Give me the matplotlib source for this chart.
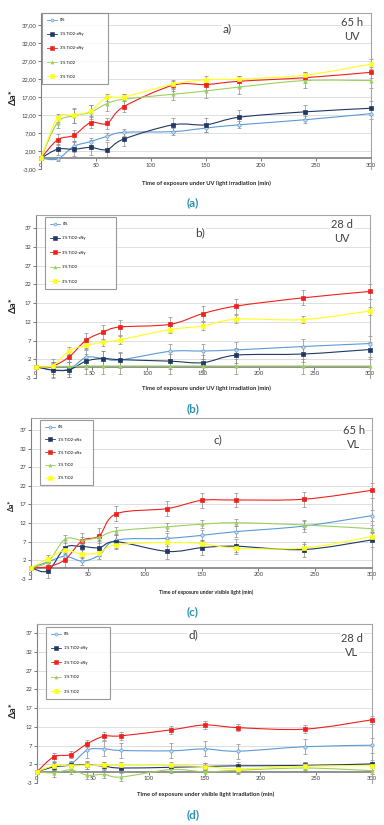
import matplotlib
matplotlib.use("Agg")
import matplotlib.pyplot as plt
import numpy as np
from matplotlib.path import Path
from matplotlib.patches import PathPatch
from matplotlib.lines import Line2D
from matplotlib.ticker import FuncFormatter

# ---------------- data ----------------
time_min = [0, 15, 30, 45, 60, 75, 120, 150, 180, 240, 300]
x_ticks = [0, 50, 100, 150, 200, 250, 300]
y_ticks = [-3, 2, 7, 12, 17, 22, 27, 32, 37]

labels_xNy = ["0%", "1% TiO2-xNy", "3% TiO2-xNy", "1% TiO2", "3% TiO2"]
labels_xNx = ["0%", "1% TiO2-xNx", "3% TiO2-xNx", "1% TiO2", "3% TiO2"]

# panel a) 65 h UV
a_0pct   = [0, -0.2, 3.3, 4.6, 6.1, 7.2, 7.4, 8.4, 9.3, 10.7, 12.4]
a_1xNy   = [0, 2.5, 2.5, 3.0, 2.4, 5.3, 9.3, 9.3, 11.4, 12.9, 13.9]
a_3xNy   = [0, 5.1, 6.4, 9.9, 9.7, 14.3, 20.3, 20.5, 21.4, 22.4, 23.9]
a_1TiO2  = [0, 9.9, 11.8, 12.8, 15.2, 16.4, 17.8, 18.7, 19.8, 21.6, 21.6]
a_3TiO2  = [0, 11.2, 11.9, 13.2, 17.0, 17.0, 20.6, 21.8, 22.0, 23.1, 26.2]
a_err = [[0, 0.5, 1.5, 1.0, 1.0, 1.0, 1.0, 1.0, 1.0, 1.0, 1.5],
         [0, 1.5, 2.0, 2.0, 2.0, 2.0, 2.0, 2.0, 2.0, 2.0, 2.0],
         [0, 1.5, 1.5, 1.5, 1.5, 1.5, 1.5, 1.5, 1.5, 1.5, 1.5],
         [0, 1.5, 2.0, 2.0, 2.0, 1.5, 1.5, 2.0, 2.0, 2.0, 2.0],
         [0, 1.0, 2.0, 1.5, 1.0, 1.0, 1.0, 1.0, 1.0, 1.0, 1.5]]

# panel b) 28 d UV
b_0pct   = [0, -0.8, -0.6, 2.5, 2.2, 1.8, 4.1, 4.2, 4.5, 5.4, 6.2]
b_1xNy   = [0, -0.9, -0.8, 1.5, 2.2, 1.9, 1.5, 1.1, 3.1, 3.4, 4.6]
b_3xNy   = [0, 0.2, 2.7, 7.1, 9.2, 10.6, 11.3, 14.2, 16.2, 18.4, 20.1]
b_1TiO2  = [0, 0.1, 0.1, 0.2, 0.2, 0.2, 0.2, 0.2, 0.2, 0.2, 0.2]
b_3TiO2  = [0, 0.3, 4.3, 5.7, 6.5, 7.2, 9.9, 10.9, 12.7, 12.6, 14.9]
b_err = [[0, 2.0, 2.0, 2.0, 2.0, 2.0, 2.0, 2.0, 2.0, 2.0, 2.0],
         [0, 2.0, 2.0, 2.0, 2.0, 2.0, 2.0, 2.0, 2.0, 2.0, 2.0],
         [0, 1.0, 1.5, 2.0, 2.0, 2.0, 2.0, 2.0, 2.0, 2.0, 2.0],
         [0, 2.0, 2.0, 2.0, 2.0, 2.0, 2.0, 2.0, 2.0, 2.0, 2.0],
         [0, 1.0, 1.0, 1.0, 1.0, 1.0, 1.0, 1.0, 1.0, 1.0, 1.0]]

# panel c) 65 h VL
c_0pct   = [0, 1.6, 3.1, 1.8, 3.4, 7.4, 7.9, 8.7, 9.7, 11.2, 14.0]
c_1xNx   = [0, -0.8, 5.4, 5.7, 5.4, 7.0, 4.4, 5.4, 5.8, 4.9, 7.5]
c_3xNx   = [0, 0.3, 2.2, 7.3, 8.6, 14.5, 15.9, 18.1, 18.2, 18.4, 20.8]
c_1TiO2  = [0, 1.6, 7.7, 7.4, 8.2, 9.9, 11.0, 11.7, 12.1, 11.5, 10.5]
c_3TiO2  = [0, 2.5, 4.7, 3.7, 4.1, 6.2, 6.8, 6.5, 5.3, 5.3, 8.4]
c_err = [[0, 1.0, 1.0, 1.0, 1.0, 1.5, 1.5, 1.5, 1.5, 1.5, 1.5],
         [0, 2.0, 2.0, 2.0, 2.0, 2.0, 2.0, 2.0, 2.0, 2.0, 2.0],
         [0, 1.0, 2.0, 2.0, 2.0, 2.0, 2.0, 2.0, 2.0, 2.0, 2.0],
         [0, 1.0, 1.0, 1.0, 1.0, 1.0, 1.0, 1.0, 1.0, 1.0, 1.0],
         [0, 1.0, 1.0, 1.0, 1.0, 1.0, 1.0, 1.0, 1.0, 1.0, 1.0]]

# panel d) 28 d VL
d_0pct   = [0, 1.5, 2.0, 5.8, 6.1, 5.7, 5.6, 6.1, 5.5, 6.7, 7.1]
d_1xNy   = [0, 1.3, 1.7, 1.8, 1.5, 1.0, 1.2, 1.4, 1.6, 1.7, 2.1]
d_3xNy   = [0, 4.0, 4.6, 7.5, 9.5, 9.6, 11.2, 12.5, 11.8, 11.4, 13.9]
d_1TiO2  = [0, -0.3, 0.5, -0.9, -0.7, -1.4, 0.6, 0.0, 0.4, 1.0, 0.3]
d_3TiO2  = [0, 1.6, 1.6, 1.7, 1.7, 1.7, 1.7, 1.4, 0.8, 1.5, 1.6]
d_err = [[0, 1.0, 1.0, 2.0, 2.0, 2.0, 2.0, 2.0, 2.0, 2.0, 2.0],
         [0, 1.0, 1.0, 1.0, 1.0, 1.0, 1.0, 1.0, 1.0, 1.0, 1.0],
         [0, 1.0, 1.0, 1.0, 1.0, 1.0, 1.0, 1.0, 1.0, 1.0, 1.0],
         [0, 1.0, 1.0, 1.0, 1.0, 1.0, 1.0, 1.0, 1.0, 1.0, 1.0],
         [0, 1.0, 1.0, 1.0, 1.0, 1.0, 1.0, 1.0, 1.0, 1.0, 1.0]]

# ---------------- style ----------------
W, H = 384, 825
colors = ["#5b9bd5", "#1f3864", "#f0201c", "#9bd05e", "#ffff1a"]
mfc = ["#c9ddf0", "#1f3864", "#f0201c", "#9bd05e", "#ffff1a"]
markers = ["o", "s", "s", "^", "s"]
FONT = "Lato"
plt.rcParams["font.family"] = [FONT, "DejaVu Sans"]

fig = plt.figure(figsize=(W / 100, H / 100), dpi=100)


def fx(px):
    return px / W


def fy(py):
    return 1 - py / H


def smooth_path(xs, ys):
    xs = np.asarray(xs, float)
    ys = np.asarray(ys, float)
    n = len(xs)
    verts = [(xs[0], ys[0])]
    codes = [Path.MOVETO]
    for i in range(n - 1):
        i0 = max(i - 1, 0)
        i3 = min(i + 2, n - 1)
        c1 = (xs[i] + (xs[i + 1] - xs[i0]) / 6, ys[i] + (ys[i + 1] - ys[i0]) / 6)
        c2 = (xs[i + 1] - (xs[i3] - xs[i]) / 6, ys[i + 1] - (ys[i3] - ys[i]) / 6)
        verts += [c1, c2, (xs[i + 1], ys[i + 1])]
        codes += [Path.CURVE4] * 3
    return Path(verts, codes)


panels = [
    dict(series=[a_0pct, a_1xNy, a_3xNy, a_1TiO2, a_3TiO2], err=a_err, labels=labels_xNy,
         box=(41, 13, 371, 169), ytop=40.4, fmt="{:.2f}", title="a)", title_xy=(227, 29),
         tag=("65 h", "UV"), tag_xy=(352, 23, 37), xlabel="Time of exposure under UV light irradiation (min)",
         xlabel_y=183, xlfs=4.2, cap="(a)", cap_y=203, ylab_xy=(13, 97), ylfs=7,
         leg=(42, 13, 108, 80)),
    dict(series=[b_0pct, b_1xNy, b_3xNy, b_1TiO2, b_3TiO2], err=b_err, labels=labels_xNy,
         box=(36, 215, 370, 378), ytop=40.5, fmt="{:.0f}", title="b)", title_xy=(200, 233),
         tag=("28 d", "UV"), tag_xy=(342, 225, 239), xlabel="Time of exposure under UV light irradiation (min)",
         xlabel_y=388, xlfs=4.2, cap="(b)", cap_y=409, ylab_xy=(13, 305), ylfs=7,
         leg=(45, 217, 116, 285)),
    dict(series=[c_0pct, c_1xNx, c_3xNx, c_1TiO2, c_3TiO2], err=c_err, labels=labels_xNx,
         box=(31, 418, 372, 579), ytop=40.2, fmt="{:.0f}", title="c)", title_xy=(218, 440),
         tag=("65 h", "VL"), tag_xy=(354, 430, 444), xlabel="Time of exposure under visible light (min)",
         xlabel_y=592, xlfs=3.7, cap="(c)", cap_y=612, ylab_xy=(11, 505), ylfs=5,
         leg=(40, 420, 93, 480)),
    dict(series=[d_0pct, d_1xNy, d_3xNy, d_1TiO2, d_3TiO2], err=d_err, labels=labels_xNy,
         box=(37, 624, 372, 783), ytop=39.5, fmt="{:.0f}", title="d)", title_xy=(193, 635),
         tag=("28 d", "VL"), tag_xy=(352, 638, 653), xlabel="Time of exposure under visible light irradiation (min)",
         xlabel_y=794, xlfs=4.2, cap="(d)", cap_y=815, ylab_xy=(13, 710), ylfs=7,
         leg=(46, 627, 110, 695)),
]

for p in panels:
    l, t, r, b = p["box"]
    ax = fig.add_axes([fx(l), fy(b), (r - l) / W, (b - t) / H])
    ax.set_xlim(0, 300)
    ax.set_ylim(-3, p["ytop"])
    ax.set_yticks(y_ticks)
    ax.set_xticks(x_ticks)
    fmt = p["fmt"]
    ax.yaxis.set_major_formatter(FuncFormatter(lambda v, pos, f=fmt: f.format(v).replace(".", ",")))
    ax.grid(axis="y", color="#d9d9d9", lw=0.6)
    ax.set_axisbelow(True)
    for s in ["top", "right"]:
        ax.spines[s].set_color("#a6a6a6")
        ax.spines[s].set_linewidth(0.8)
    ax.spines["left"].set_color("#808080")
    ax.spines["left"].set_linewidth(0.8)
    ax.spines["bottom"].set_position(("data", 0))
    ax.spines["bottom"].set_color("#7f7f7f")
    ax.spines["bottom"].set_linewidth(1.2)
    ax.tick_params(axis="y", labelsize=4.2, colors="#404040", length=2, width=0.5, pad=1.5)
    ax.tick_params(axis="x", labelsize=4.2, colors="#404040", length=2, width=0.5, pad=1.2)

    for i, ys in enumerate(p["series"]):
        ax.errorbar(time_min, ys, yerr=p["err"][i], fmt="none", ecolor="#8c8c8c",
                    elinewidth=0.5, capsize=1.2, capthick=0.5, zorder=2, clip_on=False)
    for i, ys in enumerate(p["series"]):
        patch = PathPatch(smooth_path(time_min, ys), fill=False, edgecolor=colors[i],
                          lw=0.8, zorder=3 + i, clip_on=False)
        ax.add_patch(patch)
        ax.plot(time_min, ys, linestyle="none", marker=markers[i], ms=2.4,
                mfc=mfc[i], mec=colors[i], mew=0.5, zorder=3.5 + i, clip_on=False)

    handles = [Line2D([0], [0], color=colors[i], lw=0.6, marker=markers[i], ms=2.2,
                      mfc=mfc[i], mec=colors[i], mew=0.4) for i in range(5)]
    ll, lt, lr, lb = p["leg"]
    axw, axh = (r - l), (b - t)
    leg = ax.legend(handles, p["labels"], loc="upper left",
                    bbox_to_anchor=((ll - l) / axw, (b - lb) / axh, (lr - ll) / axw, (lb - lt) / axh),
                    mode="expand", borderaxespad=0, fontsize=2.8, frameon=True, fancybox=False,
                    edgecolor="#808080", handlelength=2.6, handletextpad=0.6,
                    labelspacing=(lb - lt - 16) / 5 / 3.9 * 1.0, borderpad=1.3)
    leg.get_frame().set_linewidth(0.8)
    for txt in leg.get_texts():
        txt.set_color("#404040")
        txt.set_fontweight("bold")
    leg.set_zorder(20)

    # panel title and tag
    tx, ty = p["title_xy"]
    fig.text(fx(tx), fy(ty), p["title"], ha="center", va="center", fontsize=8.5,
             color="#404040", bbox=dict(facecolor="white", edgecolor="none", pad=0.5))
    gx, gy1, gy2 = p["tag_xy"]
    fig.text(fx(gx), fy(gy1), p["tag"][0], ha="center", va="center", fontsize=8,
             color="#404040", bbox=dict(facecolor="white", edgecolor="none", pad=0.5))
    fig.text(fx(gx), fy(gy2), p["tag"][1], ha="center", va="center", fontsize=8,
             color="#404040", bbox=dict(facecolor="white", edgecolor="none", pad=0.5))

    fig.text(fx(206), fy(p["xlabel_y"]), p["xlabel"], ha="center", va="center",
             fontsize=p["xlfs"], fontweight="bold", color="#262626")
    yx, yy = p["ylab_xy"]
    fig.text(fx(yx), fy(yy), "Δa*", ha="center", va="center", rotation=90,
             fontsize=p["ylfs"], fontweight="bold", color="#262626")
    fig.text(fx(193), fy(p["cap_y"]), p["cap"], ha="center", va="center",
             fontsize=8.5, color="#2e8fae", fontweight="bold")

fig.savefig("out.png", dpi=100)
